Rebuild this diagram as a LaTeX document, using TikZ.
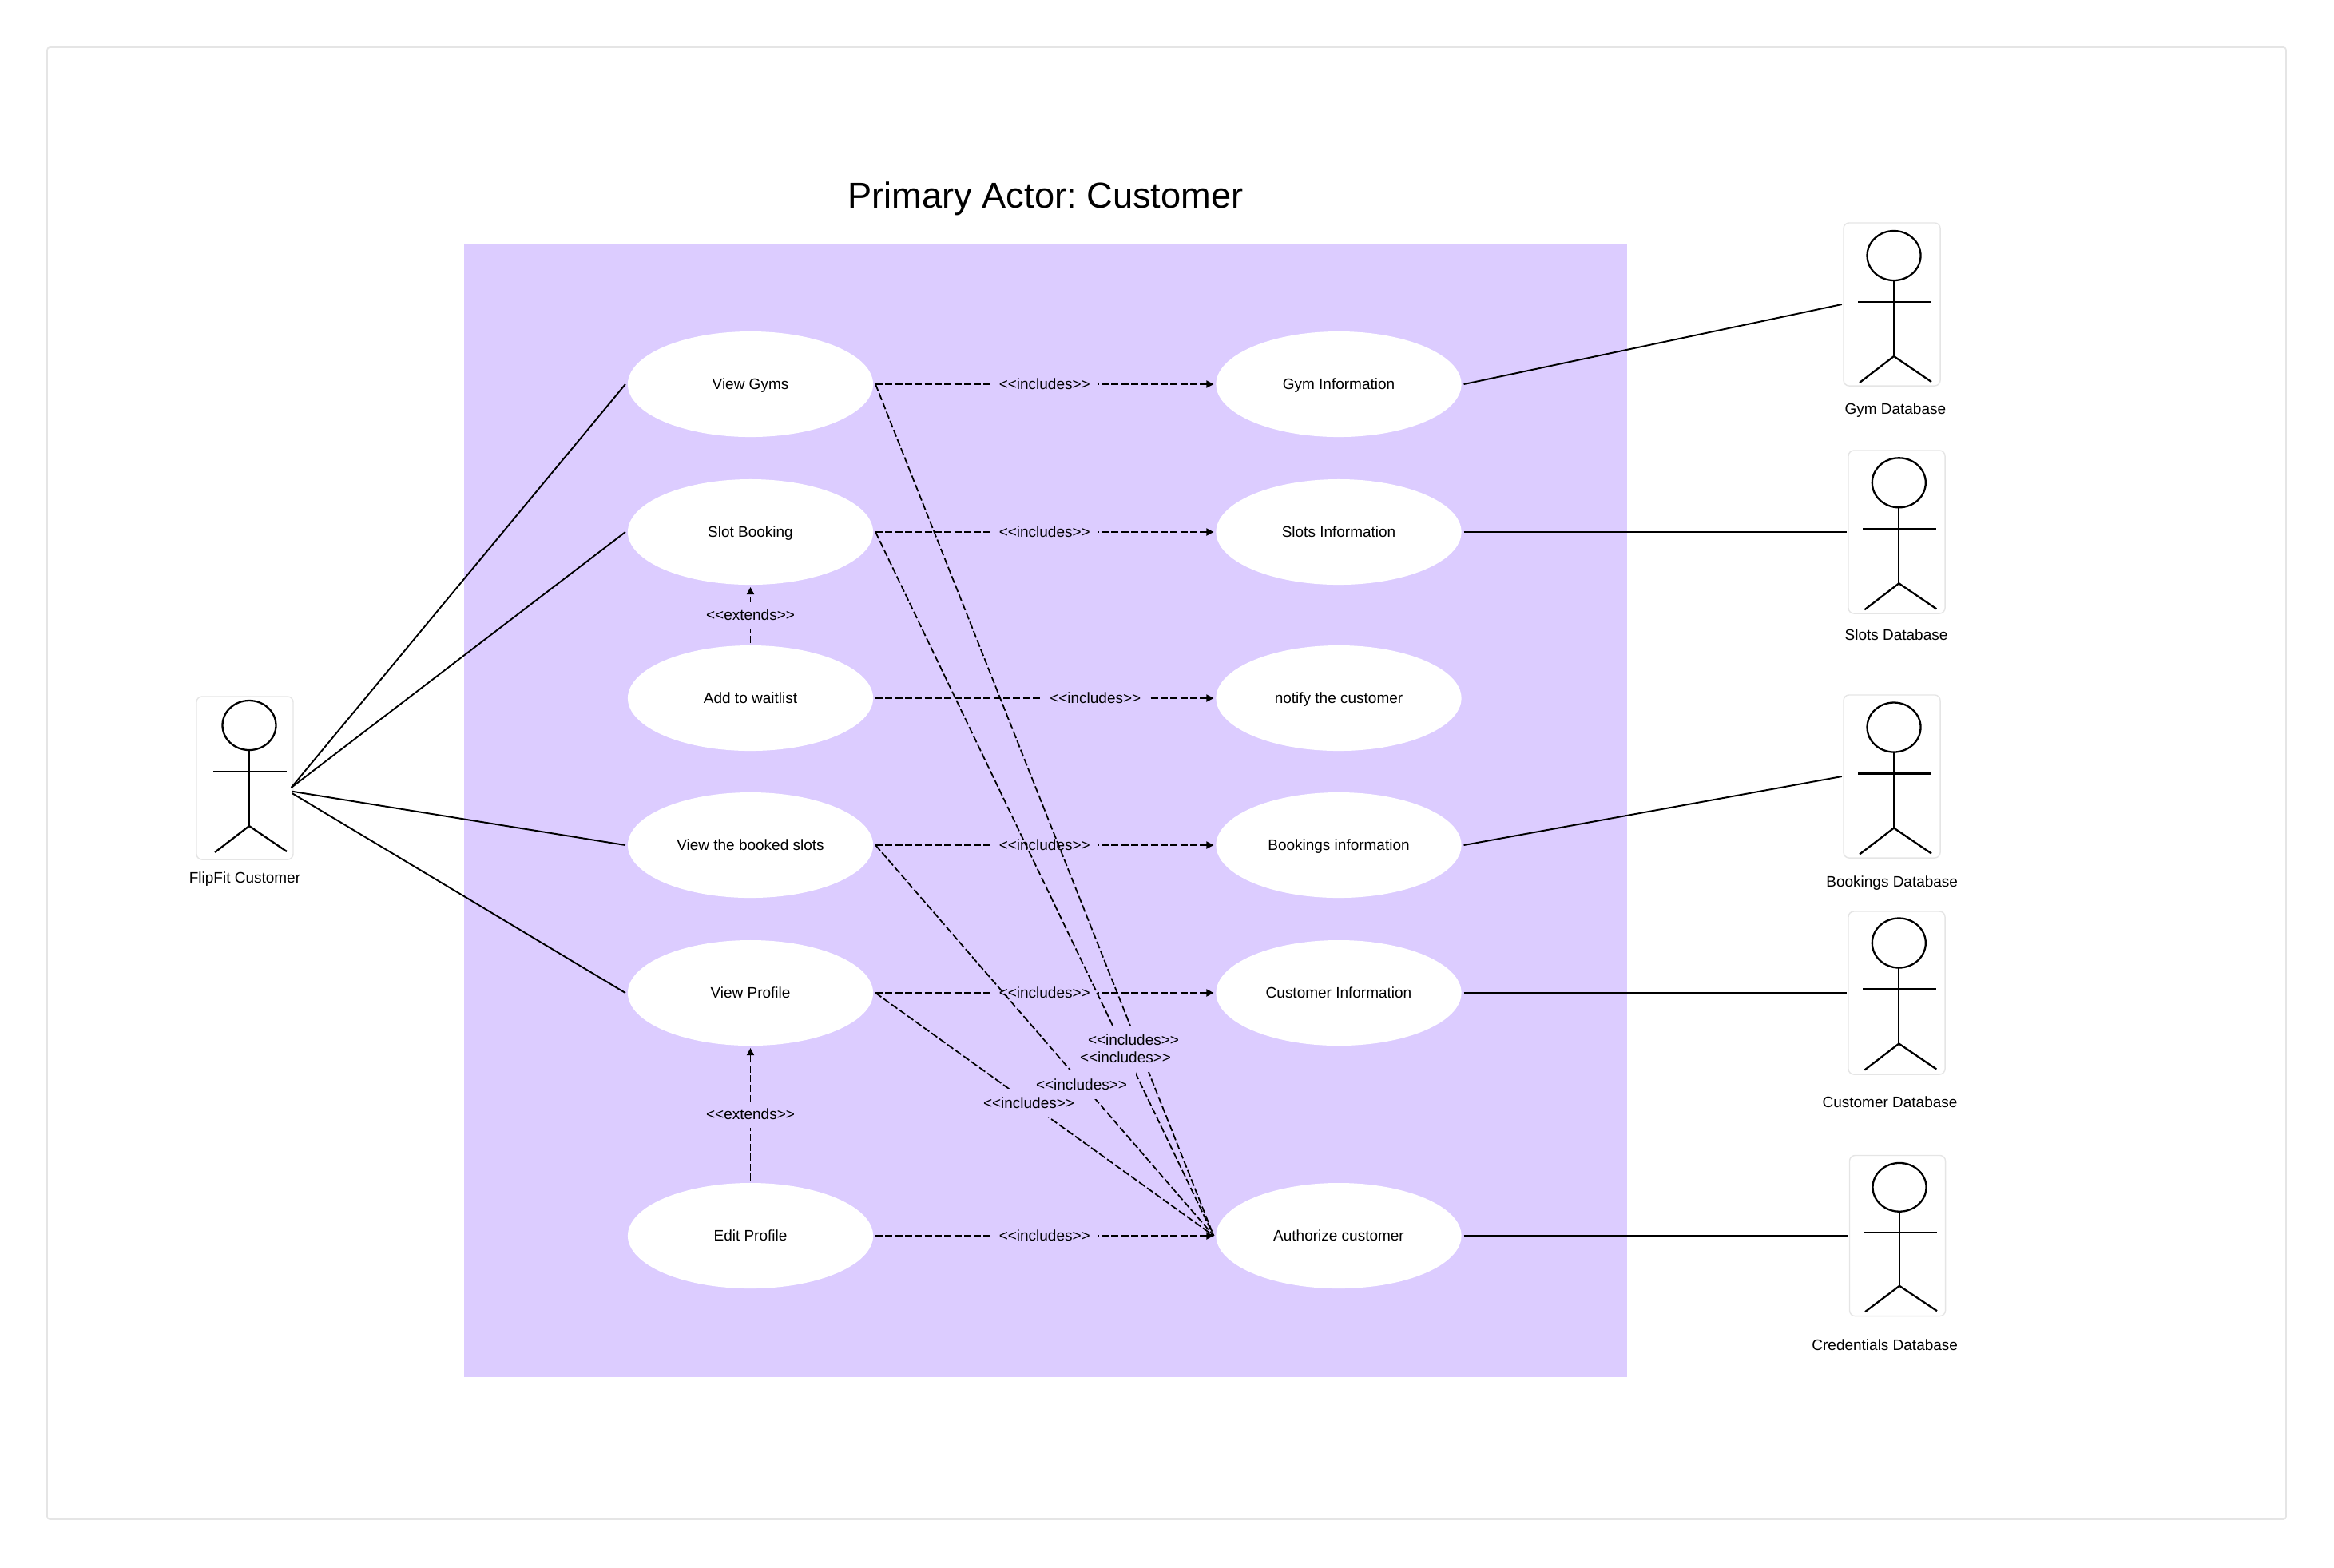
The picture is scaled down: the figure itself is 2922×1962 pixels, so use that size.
\documentclass[tikz,border=0pt]{standalone}
\usepackage{fontspec}
\setmainfont{Liberation Sans}
\usetikzlibrary{arrows.meta,shapes.geometric}
\definecolor{boundary}{HTML}{DCCCFF}
\newcommand{\incl}{<{}<includes>{}>}
\newcommand{\extd}{<{}<extends>{}>}
\tikzset{
	smalltext/.style={text height=3.8pt, text depth=0pt, font=\fontsize{5.4}{6}\selectfont},
	usecase/.style={ellipse, fill=white, inner sep=0, outer sep=0.85pt, minimum width=3.07cm, minimum height=1.32cm, smalltext},
	actorbox/.style={rectangle, draw=black!10, fill=white, rounded corners=2pt, inner sep=0, outer sep=0.6pt, line width=0.4pt, minimum width=1.21cm, minimum height=2.04cm},
	actorname/.style={inner sep=0, smalltext},
	solidlink/.style={line width=0.55pt},
	dashlink/.style={line width=0.5pt, dash pattern=on 2.55pt off 0.95pt},
	depend/.style={dashlink, -{Triangle[length=2.6pt,width=2.6pt]}},
	deplabel/.style={fill=boundary, inner sep=0, minimum width=1.35cm, minimum height=0.36cm, smalltext},
	depblank/.style={fill=boundary, inner sep=0, minimum width=1.35cm, minimum height=0.36cm},
	deptext/.style={inner sep=0, smalltext},
	extlabel/.style={fill=boundary, inner sep=0, minimum width=1.2cm, minimum height=0.33cm, smalltext},
	stickman/.pic={
		\draw[line width=0.65pt] (0,0) ellipse [x radius=33.5, y radius=31];
		\draw[line width=0.65pt] (0,31) -- (0,126);
		\draw[line width=0.65pt] (-45,58) -- (47,58);
		\draw[line width=0.65pt] (-43,159) -- (0,126) -- (47,158);
	}
}
\begin{document}
\begin{tikzpicture}[x=0.01cm,y=-0.01cm]
		\useasboundingbox (0,0) rectangle (2922,1962);
		\draw[draw=black!10, line width=0.5pt, rounded corners=1pt] (59,59) rectangle (2862,1902);
		\fill[boundary] (581,305) rectangle (2037,1724);

		\node (title) at (1309,244) [text height=9.2pt, text depth=0pt, inner sep=0] {\frenchspacing\fontsize{12.85}{15}\selectfont Primary Actor: Customer};

		\node (viewGyms) [usecase] at (939.5,481) {View Gyms};
		\node (slotBooking) [usecase] at (939.5,666) {Slot Booking};
		\node (waitlist) [usecase] at (939.5,874) {Add to waitlist};
		\node (bookedSlots) [usecase] at (939.5,1058) {View the booked slots};
		\node (viewProfile) [usecase] at (939.5,1243) {View Profile};
		\node (editProfile) [usecase] at (939.5,1547) {Edit Profile};

		\node (gymInfo) [usecase] at (1676,481) {Gym Information};
		\node (slotsInfo) [usecase] at (1676,666) {Slots Information};
		\node (notifyCust) [usecase] at (1676,874) {notify the customer};
		\node (bookingsInfo) [usecase] at (1676,1058) {Bookings information};
		\node (custInfo) [usecase] at (1676,1243) {Customer Information};
		\node (authCust) [usecase] at (1676,1547) {Authorize customer};

		\node (flipfit) [actorbox] at (306.5,974) {};
		\node (gymDb) [actorbox] at (2368.5,381) {};
		\node (slotsDb) [actorbox] at (2374.5,666) {};
		\node (bookingsDb) [actorbox] at (2368.5,972) {};
		\node (custDb) [actorbox] at (2374.5,1243) {};
		\node (credDb) [actorbox, minimum width=1.2cm, minimum height=2.01cm] at (2375.5,1547) {};

		\pic at (312,908) {stickman};
		\pic at (2371,320) {stickman};
		\pic at (2377.3,604.3) {stickman};
		\pic at (2371,910.5) {stickman};
		\pic at (2377.3,1180.5) {stickman};
		\pic[yscale=0.98] at (2378,1486.3) {stickman};

		\node (flipfitName) [actorname] at (306.5,1099) {FlipFit Customer};
		\node (gymDbName) [actorname] at (2372.8,511.7) {Gym Database};
		\node (slotsDbName) [actorname] at (2374,795) {Slots Database};
		\node (bookingsDbName) [actorname] at (2368.7,1104) {Bookings Database};
		\node (custDbName) [actorname] at (2366,1380) {Customer Database};
		\node (credDbName) [actorname] at (2359.7,1684) {Credentials Database};

		\coordinate (flipfitA) at (364.6,986);
		\coordinate (flipfitB) at (365.6,990.7);
		\coordinate (flipfitC) at (365.6,993);

		\draw[solidlink] (flipfitA) -- (viewGyms.west);
		\draw[solidlink] (flipfitA) -- (slotBooking.west);
		\draw[solidlink] (flipfitB) -- (bookedSlots.west);
		\draw[solidlink] (flipfitC) -- (viewProfile.west);

		\draw[solidlink] (gymInfo.east) -- (gymDb.west);
		\draw[solidlink] (slotsInfo.east) -- (slotsDb.west);
		\draw[solidlink] (bookingsInfo.east) -- (bookingsDb.west);
		\draw[solidlink] (custInfo.east) -- (custDb.west);
		\draw[solidlink] (authCust.east) -- (credDb.west);

		\draw[depend] (viewGyms.east) -- node[deplabel] {\incl} (gymInfo.west);
		\draw[depend] (slotBooking.east) -- node[deplabel] {\incl} (slotsInfo.west);
		\draw[depend] (waitlist.east) -- node[deplabel, pos=0.65] {\incl} (notifyCust.west);
		\draw[depend] (bookedSlots.east) -- node[deplabel] {\incl} (bookingsInfo.west);
		\draw[depend] (viewProfile.east) -- node[deplabel] {\incl} (custInfo.west);

		\draw[depend] (waitlist.north) -- node[extlabel] {\extd} (slotBooking.south);
		\draw[depend] (editProfile.north) -- node[extlabel] {\extd} (viewProfile.south);

		\draw[dashlink] (viewGyms.east) -- (authCust.west);
		\draw[dashlink] (slotBooking.east) -- (authCust.west);
		\draw[dashlink] (bookedSlots.east) -- (authCust.west);
		\draw[dashlink] (viewProfile.east) -- (authCust.west);
		\draw[depend] (editProfile.east) -- node[deplabel] {\incl} (authCust.west);

		\node (gymBlank) [depblank] at (1419,1302) {};
		\node (slotBlank) [depblank] at (1409,1324) {};
		\node (bookedBlank) [depblank] at (1354,1358) {};
		\node (profileBlank) [depblank] at (1288,1381) {};

		\node (gymAuth) [deptext] at (gymBlank) {\incl};
		\node (slotAuth) [deptext] at (slotBlank) {\incl};
		\node (bookedAuth) [deptext] at (bookedBlank) {\incl};
		\node (profileAuth) [deptext] at (profileBlank) {\incl};
	\end{tikzpicture}
\end{document}
